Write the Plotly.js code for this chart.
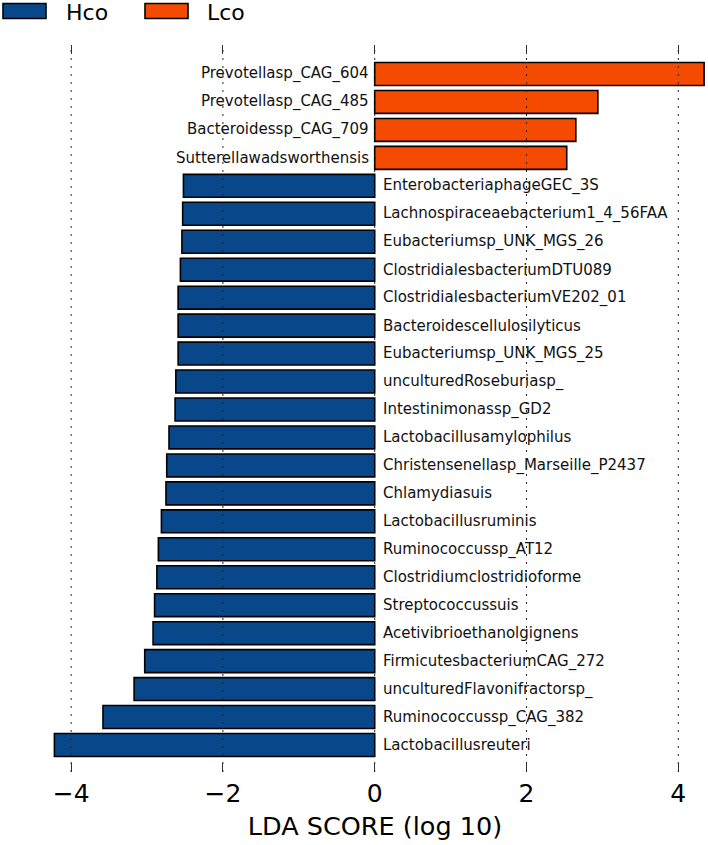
<!DOCTYPE html>
<html>
<head>
<meta charset="utf-8">
<script src="https://cdn.plot.ly/plotly-3.0.1.min.js"></script>
<style>html,body{margin:0;padding:0;background:#fff;}#chart{width:708px;height:845px;}</style>
</head>
<body>
<div id="chart"></div>
<script>
// Data (top to bottom)
const taxa = [
  "Prevotellasp_CAG_604","Prevotellasp_CAG_485","Bacteroidessp_CAG_709","Sutterellawadsworthensis",
  "EnterobacteriaphageGEC_3S","Lachnospiraceaebacterium1_4_56FAA","Eubacteriumsp_UNK_MGS_26",
  "ClostridialesbacteriumDTU089","ClostridialesbacteriumVE202_01","Bacteroidescellulosilyticus",
  "Eubacteriumsp_UNK_MGS_25","unculturedRoseburiasp_","Intestinimonassp_GD2","Lactobacillusamylophilus",
  "Christensenellasp_Marseille_P2437","Chlamydiasuis","Lactobacillusruminis","Ruminococcussp_AT12",
  "Clostridiumclostridioforme","Streptococcussuis","Acetivibrioethanolgignens","FirmicutesbacteriumCAG_272",
  "unculturedFlavonifractorsp_","Ruminococcussp_CAG_382","Lactobacillusreuteri"
];
const ldaScores = [
  4.34, 2.94, 2.65, 2.53,
  -2.52, -2.53, -2.54, -2.56, -2.59, -2.59, -2.59, -2.62, -2.63, -2.71,
  -2.74, -2.75, -2.81, -2.85, -2.87, -2.90, -2.92, -3.03, -3.17, -3.58, -4.22
];
const groupNames = ["Hco", "Lco"];
const groupColors = {"Hco": "#08488A", "Lco": "#F54B00"};
const tickVals = [-4, -2, 0, 2, 4];
const xTitle = "LDA SCORE (log 10)";

const groups = ldaScores.map(v => v < 0 ? "Hco" : "Lco");

// layout geometry
const W = 708, H = 845;
const M = {l: 44, r: 2, t: 45, b: 73};
const pw = W - M.l - M.r, ph = H - M.t - M.b;
const px2paperX = x => (x - M.l) / pw;
const px2paperY = y => (H - M.b - y) / ph;

const traces = groupNames.map(g => {
  const idx = taxa.map((t, i) => i).filter(i => groups[i] === g);
  return {
    type: "bar",
    orientation: "h",
    name: g,
    y: idx.map(i => taxa[i]),
    x: idx.map(i => ldaScores[i]),
    width: 0.82,
    marker: {color: groupColors[g], line: {color: "#000", width: 1.6}},
    showlegend: false,
    hoverinfo: "x+y"
  };
});

const annotations = taxa.map((t, i) => ({
  xref: "x", yref: "y", x: 0, y: t,
  text: t, showarrow: false,
  xanchor: ldaScores[i] < 0 ? "left" : "right",
  yanchor: "middle",
  xshift: ldaScores[i] < 0 ? 6 : -4,
  font: {family: "DejaVu Sans", size: 15, color: "#111"}
}));

// gridlines above bars
const shapes = tickVals.map(v => ({
  type: "line", xref: "x", yref: "paper", x0: v, x1: v, y0: 0, y1: 1,
  layer: "above", line: {color: "#222", width: 1, dash: "2px,6px"}
}));

// legend boxes and texts
const legendItems = [
  {g: "Hco", x0: 3, x1: 46, tx: 64},
  {g: "Lco", x0: 145, x1: 188, tx: 205}
];
legendItems.forEach(it => {
  shapes.push({
    type: "rect", xref: "paper", yref: "paper",
    x0: px2paperX(it.x0), x1: px2paperX(it.x1),
    y0: px2paperY(18.5), y1: px2paperY(3.5),
    fillcolor: groupColors[it.g], line: {color: "#000", width: 1.6}, layer: "above"
  });
  annotations.push({
    xref: "paper", yref: "paper", x: px2paperX(it.tx), y: px2paperY(12),
    xanchor: "left", yanchor: "middle", showarrow: false, text: it.g,
    font: {family: "DejaVu Sans", size: 22, color: "#000"}
  });
});

const layout = {
  width: W, height: H,
  margin: M,
  paper_bgcolor: "#fff", plot_bgcolor: "#fff",
  barmode: "overlay",
  font: {family: "DejaVu Sans", color: "#000"},
  xaxis: {
    range: [(M.l - 374.7) / 75.9, (W - M.r - 374.7) / 75.9],
    tickvals: tickVals,
    ticks: "inside", ticklen: 9, tickwidth: 1, tickcolor: "#333",
    mirror: "ticks",
    showgrid: false, zeroline: false, showline: false,
    tickfont: {family: "DejaVu Sans", size: 25, color: "#000"},
    ticklabelstandoff: 4,
    title: {text: xTitle, font: {family: "DejaVu Sans", size: 25.5, color: "#000"}, standoff: 10}
  },
  yaxis: {
    type: "category",
    categoryorder: "array", categoryarray: taxa,
    range: [24.966, -1.037],
    showticklabels: false, ticks: "", showgrid: false, zeroline: false, showline: false
  },
  shapes: shapes,
  annotations: annotations,
  showlegend: false
};

Plotly.newPlot("chart", traces, layout, {displayModeBar: false, staticPlot: true});
</script>
</body>
</html>
